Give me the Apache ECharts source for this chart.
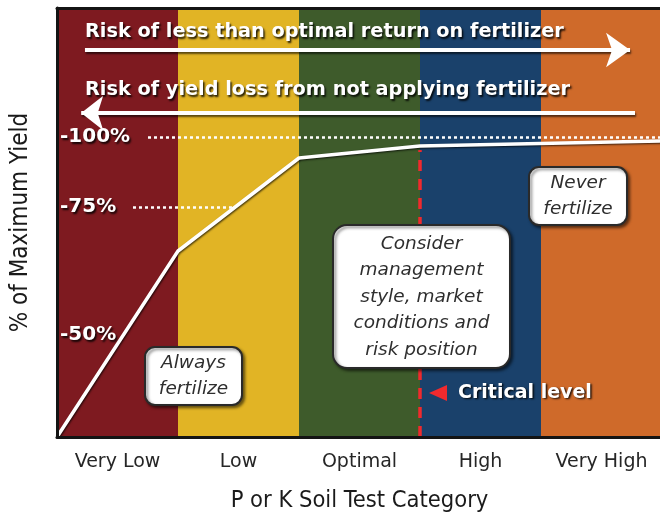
<!DOCTYPE html>
<html>
<head>
<meta charset="utf-8">
<script src="https://cdn.jsdelivr.net/npm/echarts@6/dist/echarts.min.js"></script>
<style>html,body{margin:0;padding:0;background:#fff;}#c{width:660px;height:516px;}</style>
</head>
<body>
<div id="c"></div>
<script>
// ---- data ----
const categories = ['Very Low', 'Low', 'Optimal', 'High', 'Very High'];
// yield response curve (schematic units, 100 = maximum yield)
const yieldX = [0, 1, 2, 3, 5];
const yieldY = [0, 62, 93, 97, 98.7];
// y tick labels and their (schematic) positions
const tickValues = [100, 76.7, 34];
const tickLabels = ['-100%', '-75%', '-50%'];
const criticalX = 3;
const criticalTop = 95.7;
const topArrowLabel = 'Risk of less than optimal return on fertilizer';
const bottomArrowLabel = 'Risk of yield loss from not applying fertilizer';

// ---- styles ----
const bandColors = ['#7e1a20', '#e1b425', '#3e5b2b', '#1a416b', '#cf6a2a'];
const shadowText = {
  fill: '#ffffff',
  textShadowColor: 'rgba(0,0,0,0.85)',
  textShadowBlur: 2,
  textShadowOffsetX: 1.5,
  textShadowOffsetY: 1.5
};

const chart = echarts.init(document.getElementById('c'), null, {renderer: 'canvas'});

const curve = yieldX.map((x, i) => [x, yieldY[i]]);
const bands = categories.map((c, i) => [
  {xAxis: i, itemStyle: {color: bandColors[i], opacity: 1}},
  {xAxis: i + 1}
]);

const whiteLine = {color: '#ffffff', width: 4, type: 'solid', opacity: 1,
  shadowColor: 'rgba(0,0,0,0.6)', shadowBlur: 2, shadowOffsetX: 1, shadowOffsetY: 2};
const dotted = {color: '#ffffff', width: 2.5, type: [3, 3], opacity: 1};

const markLines = [
  // dotted guide lines
  [{coord: [0.752, tickValues[0]], lineStyle: dotted}, {coord: [5, tickValues[0]]}],
  [{coord: [0.628, tickValues[1]], lineStyle: dotted}, {coord: [1.45, tickValues[1]]}],
  // top arrow (pointing right)
  [{coord: [0.231, 129], lineStyle: whiteLine}, {coord: [4.736, 129], symbol: 'arrow', symbolSize: [26, 24]}],
  // second arrow (pointing left)
  [{coord: [0.2, 108], symbol: 'arrow', symbolSize: [26, 22], lineStyle: whiteLine}, {coord: [4.777, 108]}],
  // critical level
  [{coord: [criticalX, 0], lineStyle: {color: '#f02a2e', width: 3.5, type: [11, 8], opacity: 1}}, {coord: [criticalX, criticalTop]}]
];

const option = {
  animation: false,
  grid: {left: 57, right: -2, top: 8, bottom: 79, containLabel: false, outerBoundsMode: 'none'},
  xAxis: [
    {
      type: 'category', data: categories, boundaryGap: true, position: 'bottom', z: 10,
      axisLine: {show: true, lineStyle: {color: '#141414', width: 3}},
      axisTick: {show: false}, splitLine: {show: false},
      axisLabel: {interval: 0, color: '#262626', fontSize: 19, fontFamily: 'DejaVu Sans', margin: 16},
      name: 'P or K Soil Test Category', nameLocation: 'middle', nameGap: 52,
      nameTextStyle: {color: '#1a1a1a', fontSize: 23.5, fontFamily: 'DejaVu Sans Condensed'}
    },
    {
      type: 'value', min: 0, max: 5, position: 'top', z: 10,
      axisLine: {show: true, lineStyle: {color: '#141414', width: 3}},
      axisTick: {show: false}, axisLabel: {show: false}, splitLine: {show: false}
    }
  ],
  yAxis: {
    type: 'value', min: 0, max: 143, z: 10,
    axisLine: {show: true, lineStyle: {color: '#141414', width: 3}},
    axisTick: {show: false}, splitLine: {show: false},
    axisLabel: {
      inside: true, customValues: tickValues, margin: 3,
      formatter: v => { const i = tickValues.findIndex(t => Math.abs(t - v) < 1e-6); return i >= 0 ? tickLabels[i] : ''; },
      color: '#fff', fontWeight: 'bold', fontSize: 20, fontFamily: 'DejaVu Sans',
      textShadowColor: 'rgba(0,0,0,0.85)', textShadowBlur: 2, textShadowOffsetX: 1.5, textShadowOffsetY: 1.5
    },
    name: '% of Maximum Yield', nameLocation: 'middle', nameGap: 24, nameRotate: 90,
    nameTextStyle: {color: '#1a1a1a', fontSize: 24, fontFamily: 'DejaVu Sans Condensed'}
  },
  series: [
    {
      type: 'line', xAxisIndex: 1, yAxisIndex: 0, data: curve,
      symbol: 'none', silent: true, z: 5,
      lineStyle: {color: '#ffffff', width: 3.5, shadowColor: 'rgba(0,0,0,0.7)', shadowBlur: 2, shadowOffsetX: 1, shadowOffsetY: 1},
      markArea: {silent: true, data: bands},
      markLine: {silent: true, symbol: 'none', label: {show: false}, emphasis: {disabled: true}, data: markLines}
    }
  ],
  graphic: [
    {type: 'text', z: 20, style: Object.assign({text: topArrowLabel, x: 85, y: 32, align: 'left', verticalAlign: 'middle', font: 'bold 19.3px "DejaVu Sans"'}, shadowText)},
    {type: 'text', z: 20, style: Object.assign({text: bottomArrowLabel, x: 85, y: 90, align: 'left', verticalAlign: 'middle', font: 'bold 19.3px "DejaVu Sans"'}, shadowText)},
    {type: 'polygon', z: 20, shape: {points: [[447, 385], [447, 401], [429, 393]]}, style: {fill: '#f02a2e'}},
    {type: 'text', z: 20, style: Object.assign({text: 'Critical level', x: 458, y: 393, align: 'left', verticalAlign: 'middle', font: 'bold 19px "DejaVu Sans"'}, shadowText)},
    // boxes
    {type: 'rect', z: 20, shape: {x: 145, y: 347, width: 97, height: 58, r: 10},
      style: {fill: '#fff', stroke: '#2a2a2a', lineWidth: 2, shadowColor: 'rgba(0,0,0,0.5)', shadowBlur: 3, shadowOffsetX: 2, shadowOffsetY: 2}},
    {type: 'text', z: 21, style: {text: 'Always\nfertilize', x: 193.5, y: 376, align: 'center', verticalAlign: 'middle', font: 'italic 18.5px "DejaVu Sans"', fill: '#2e2e2e', lineHeight: 26}},
    {type: 'rect', z: 20, shape: {x: 333, y: 225, width: 177, height: 143, r: 14},
      style: {fill: '#fff', stroke: '#2a2a2a', lineWidth: 2, shadowColor: 'rgba(0,0,0,0.5)', shadowBlur: 3, shadowOffsetX: 2, shadowOffsetY: 2}},
    {type: 'text', z: 21, style: {text: 'Consider\nmanagement\nstyle, market\nconditions and\nrisk position', x: 421.5, y: 297, align: 'center', verticalAlign: 'middle', font: 'italic 18.5px "DejaVu Sans"', fill: '#2e2e2e', lineHeight: 26.5}},
    {type: 'rect', z: 20, shape: {x: 529, y: 167, width: 98, height: 58, r: 10},
      style: {fill: '#fff', stroke: '#2a2a2a', lineWidth: 2, shadowColor: 'rgba(0,0,0,0.5)', shadowBlur: 3, shadowOffsetX: 2, shadowOffsetY: 2}},
    {type: 'text', z: 21, style: {text: 'Never\nfertilize', x: 578, y: 196, align: 'center', verticalAlign: 'middle', font: 'italic 18.5px "DejaVu Sans"', fill: '#2e2e2e', lineHeight: 26}}
  ]
};
chart.setOption(option);
</script>
</body>
</html>
